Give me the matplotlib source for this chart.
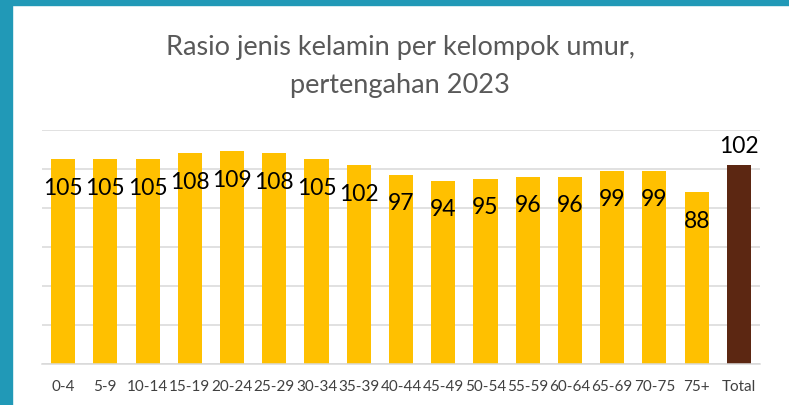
import matplotlib
matplotlib.use("Agg")
import matplotlib.pyplot as plt
from matplotlib.patches import Rectangle

categories = ["0-4", "5-9", "10-14", "15-19", "20-24", "25-29", "30-34", "35-39",
              "40-44", "45-49", "50-54", "55-59", "60-64", "65-69", "70-75", "75+", "Total"]
values = [105, 105, 105, 108, 109, 108, 105, 102, 97, 94, 95, 96, 96, 99, 99, 88, 102]
title = "Rasio jenis kelamin per kelompok umur,\npertengahan 2023"

W, H = 789, 406
fig = plt.figure(figsize=(W / 100, H / 100), dpi=100)
fig.patch.set_facecolor("white")

# teal frame (left and top)
teal = "#2199B7"
fig.add_artist(Rectangle((0, 0), 12 / W, 1, transform=fig.transFigure, color=teal, zorder=0))
fig.add_artist(Rectangle((0, 1 - 6 / H), 1, 6 / H, transform=fig.transFigure, color=teal, zorder=0))

ax = fig.add_axes([42 / W, 41 / H, (760 - 42) / W, (365 - 131) / H])
colors = ["#FFC000"] * (len(values) - 1) + ["#5C2712"]
x = list(range(len(values)))
ax.bar(x, values, width=0.57, color=colors, zorder=2)
ax.set_xlim(-0.5, len(values) - 0.5)
ax.set_ylim(0, 120)
ax.set_yticks(range(0, 121, 20))
ax.yaxis.grid(True, color="#D9D9D9", linewidth=1.1, zorder=0)
ax.set_axisbelow(True)
for s in ["top", "right", "left"]:
    ax.spines[s].set_visible(False)
ax.spines["bottom"].set_color("#D9D9D9")
ax.spines["bottom"].set_linewidth(1.1)
ax.tick_params(axis="y", length=0, labelleft=False)
ax.tick_params(axis="x", length=0, pad=11)
ax.set_xticks(x)
ax.set_xticklabels(categories, fontsize=11, color="#404040", family="Lato")

for i, v in enumerate(values):
    if i == len(values) - 1:
        ax.annotate(f"{v:.0f}", (i, v), xytext=(0, 20), textcoords="offset pixels",
                    ha="center", va="center", fontsize=16.5, color="black", family="Lato")
    else:
        ax.annotate(f"{v:.0f}", (i, v), xytext=(0, -28), textcoords="offset pixels",
                    ha="center", va="center", fontsize=16.5, color="black", family="Lato")

fig.text(400 / W, 1 - 66 / H, title, ha="center", va="center", fontsize=19.5,
         color="#595959", family="Lato", linespacing=1.65)

fig.savefig("out.png", dpi=100)
